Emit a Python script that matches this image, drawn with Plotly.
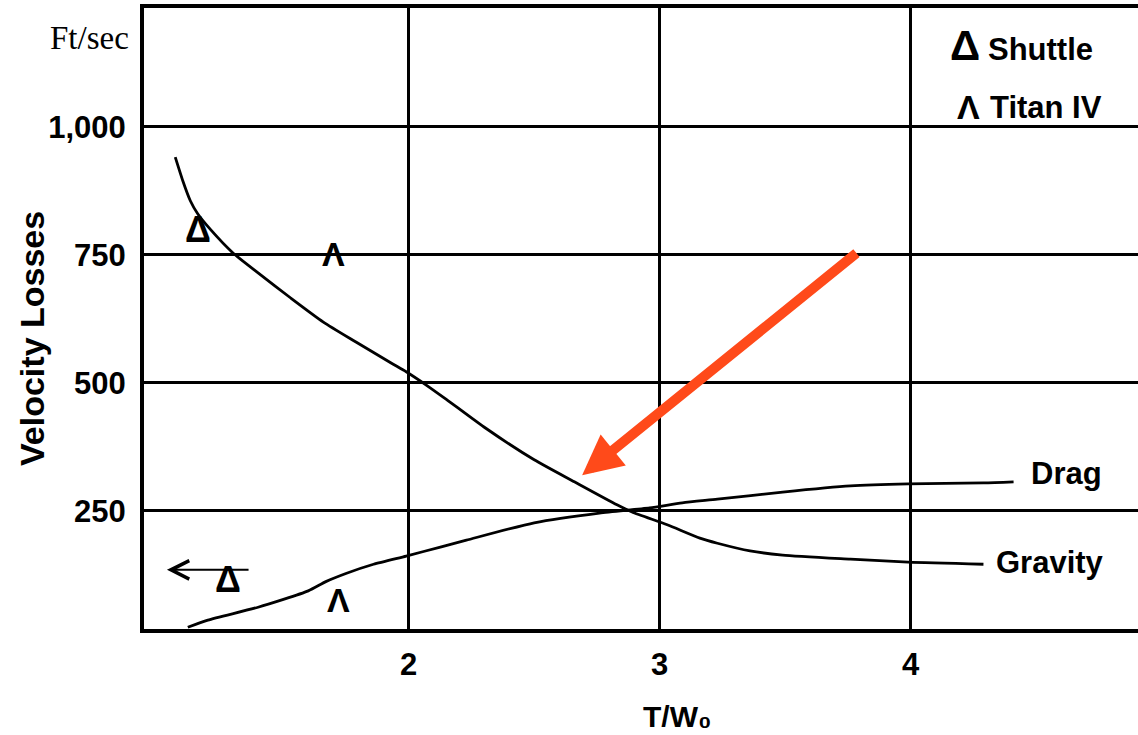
import plotly.graph_objects as go

# Thrust-to-weight ratio (T/W0) and velocity loss (ft/sec) along each curve
gravity_tw = [1.07, 1.10, 1.13, 1.16, 1.21, 1.30, 1.40, 1.53, 1.66, 1.79, 1.93, 1.99,
              2.07, 2.15, 2.30, 2.50, 2.66, 2.83, 2.89, 3.03, 3.16, 3.23, 3.36,
              3.49, 3.76, 3.99, 4.29]
gravity_loss = [941, 895, 856, 830, 800, 754, 715, 666, 619, 580, 539, 522,
                496, 468, 414, 350, 307, 262, 248, 223, 197, 187, 172,
                164, 156, 150, 146]

drag_tw = [1.12, 1.20, 1.40, 1.60, 1.67, 1.75, 1.86, 1.99, 2.13, 2.23, 2.50, 2.76,
           2.96, 3.09, 3.23, 3.49, 3.76, 3.99, 4.29, 4.41]
drag_loss = [23, 37, 62, 94, 112, 128, 146, 162, 180, 193, 227, 246,
             256, 266, 273, 287, 299, 303, 305, 307]

# Individual vehicle points
shuttle_tw = [1.16, 1.28]
shuttle_loss = [793, 109]
titan_tw = [1.70, 1.72]
titan_loss = [746, 70]

x_ticks = [2, 3, 4]
y_ticks = [250, 500, 750, 1000]
y_tick_text = ["250", "500", "750", "1,000"]

SANS = "Liberation Sans, Arial, sans-serif"
INK = "black"
ACCENT = "#FF4A1A"

fig = go.Figure()

curve_line = dict(color=INK, width=2.8, shape="spline", smoothing=0.6)
fig.add_trace(go.Scatter(x=gravity_tw, y=gravity_loss, mode="lines",
                         line=curve_line, name="Gravity"))
fig.add_trace(go.Scatter(x=drag_tw, y=drag_loss, mode="lines",
                         line=curve_line, name="Drag"))

fig.add_trace(go.Scatter(x=shuttle_tw, y=shuttle_loss, mode="text", text=["Δ"] * len(shuttle_tw),
                         textfont=dict(family=SANS, size=36, color=INK, weight="bold"),
                         name="Shuttle"))
fig.add_trace(go.Scatter(x=titan_tw, y=titan_loss, mode="text", text=["Λ"] * len(titan_tw),
                         textfont=dict(family=SANS, size=34, color=INK, weight="bold"),
                         name="Titan IV"))

label_font = dict(family=SANS, size=31, color=INK, weight="bold")

annotations = [
    # curve labels
    dict(x=4.62, y=324, text="Drag", showarrow=False, xref="x", yref="y", font=label_font),
    dict(x=4.555, y=150, text="Gravity", showarrow=False, xref="x", yref="y", font=label_font),
    # key
    dict(x=4.217, y=1160, text="Δ", showarrow=False, xref="x", yref="y",
         font=dict(family=SANS, size=42, color=INK, weight="bold")),
    dict(x=4.30, y=1151, text="Shuttle", showarrow=False, xref="x", yref="y", xanchor="left",
         font=label_font),
    dict(x=4.232, y=1039, text="Λ", showarrow=False, xref="x", yref="y",
         font=dict(family=SANS, size=34, color=INK, weight="bold")),
    dict(x=4.31, y=1039, text="Titan IV", showarrow=False, xref="x", yref="y", xanchor="left",
         font=label_font),
    # units and axis titles
    dict(x=-0.013, y=0.952, xref="paper", yref="paper", text="Ft/sec", showarrow=False,
         xanchor="right", yanchor="middle",
         font=dict(family="Liberation Serif, Times New Roman, serif", size=33, color=INK)),
    dict(x=-0.1127, y=0.4686, xref="paper", yref="paper", text="Velocity Losses",
         showarrow=False, textangle=-90, xanchor="center", yanchor="middle",
         font=dict(family=SANS, size=34, color=INK, weight="bold")),
    dict(x=0.537, y=-0.1705, xref="paper", yref="paper", text="T/W₀",
         showarrow=False, xanchor="center", yanchor="bottom",
         font=dict(family=SANS, size=30, color=INK, weight="bold")),
    # small left-pointing arrow near the lower shuttle point
    dict(x=1.037, y=135, ax=1.368, ay=135, xref="x", yref="y", axref="x", ayref="y",
         text="", showarrow=True, arrowhead=5, arrowsize=1.8, arrowwidth=2, arrowcolor=INK),
    # highlight arrow pointing at the crossover region
    dict(x=2.691, y=320, ax=3.790, ay=756, xref="x", yref="y", axref="x", ayref="y",
         text="", showarrow=True, arrowhead=2, arrowsize=0.8, arrowwidth=10,
         arrowcolor=ACCENT),
]

fig.update_layout(
    width=1138, height=735,
    margin=dict(l=144, r=0, t=8, b=106),
    paper_bgcolor="white", plot_bgcolor="white",
    showlegend=False,
    annotations=annotations,
)

tick_font = dict(family=SANS, size=31, color=INK, weight="bold")

fig.update_xaxes(
    range=[0.9455, 4.9057], tickvals=x_ticks, ticktext=[str(v) for v in x_ticks],
    showgrid=True, gridcolor=INK, gridwidth=3,
    showline=True, linecolor=INK, linewidth=4, mirror=True,
    ticks="", zeroline=False, ticklabelstandoff=5,
    tickfont=tick_font,
)
fig.update_yaxes(
    range=[19.5, 1232.4], tickvals=y_ticks, ticktext=y_tick_text,
    showgrid=True, gridcolor=INK, gridwidth=3,
    showline=True, linecolor=INK, linewidth=4, mirror=False,
    ticks="", zeroline=False, ticklabelstandoff=8,
    tickfont=tick_font,
)

fig.write_html("out.html")
